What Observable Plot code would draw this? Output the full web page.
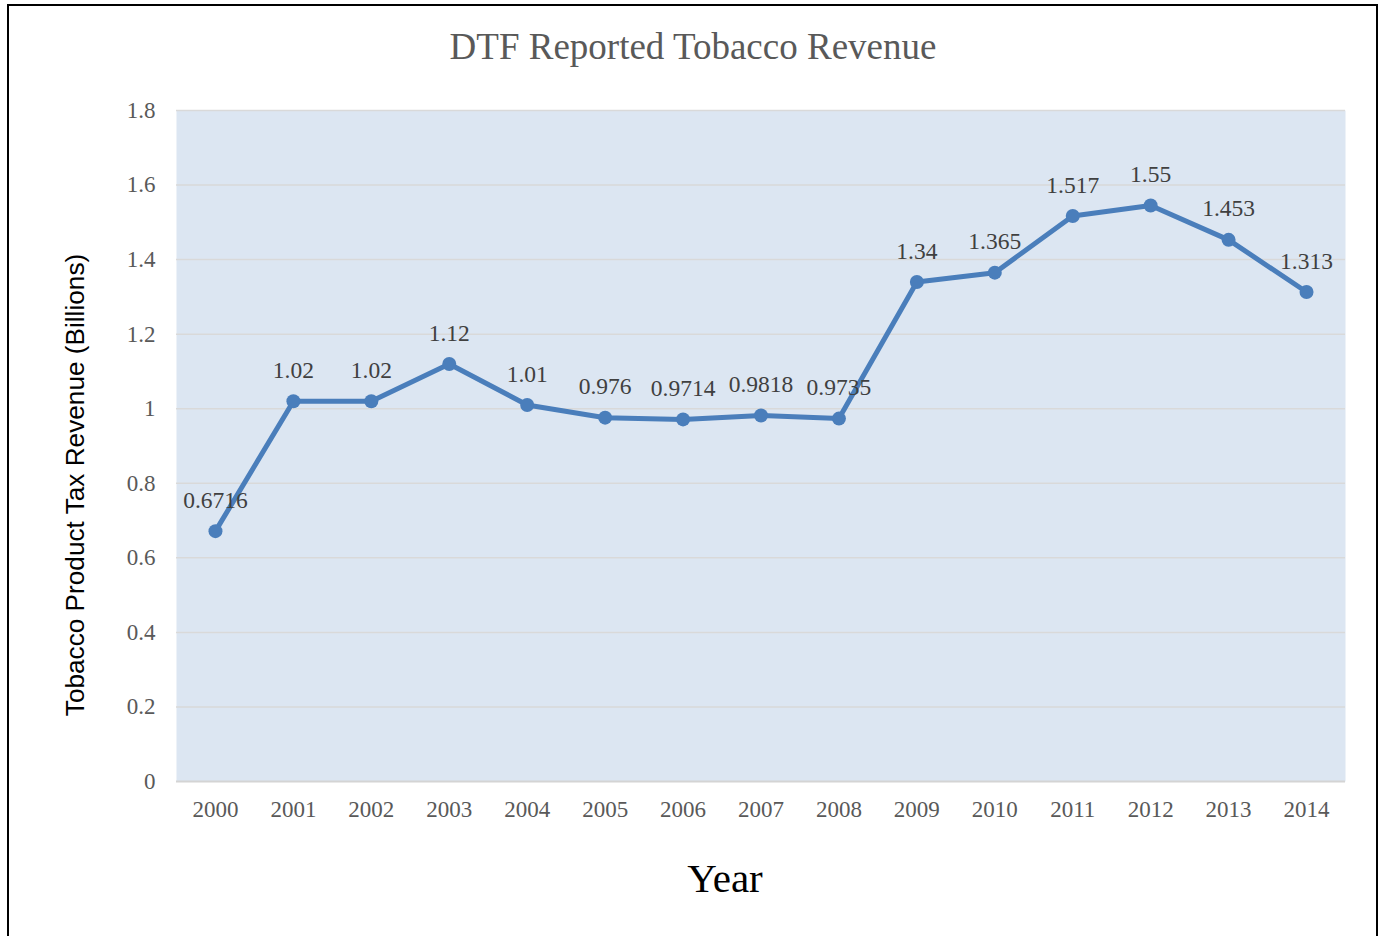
<!DOCTYPE html>
<html>
<head>
<meta charset="utf-8">
<script src="https://cdn.jsdelivr.net/npm/d3@7"></script>
<script src="https://cdn.jsdelivr.net/npm/@observablehq/plot@0.6"></script>
<style>
  html, body { margin: 0; padding: 0; background: #fff; }
  #page { position: relative; width: 1380px; height: 936px; overflow: hidden; background: #fff; }
  #border { position: absolute; left: 7px; top: 4px; width: 1371px; height: 1000px; box-sizing: border-box; border: 2px solid #000; }
  #chart { position: absolute; left: 0; top: 0; }
</style>
</head>
<body>
<div id="page">
  <div id="border"></div>
  <div id="chart"></div>
</div>
<script>
const title = "DTF Reported Tobacco Revenue";
const yLabel = "Tobacco Product Tax Revenue (Billions)";
const xLabel = "Year";
const years = [2000, 2001, 2002, 2003, 2004, 2005, 2006, 2007, 2008, 2009, 2010, 2011, 2012, 2013, 2014];
const revenue = [0.6716, 1.02, 1.02, 1.12, 1.01, 0.976, 0.9714, 0.9818, 0.9735, 1.34, 1.365, 1.517, 1.545, 1.453, 1.313];
const valueLabels = ["0.6716", "1.02", "1.02", "1.12", "1.01", "0.976", "0.9714", "0.9818", "0.9735", "1.34", "1.365", "1.517", "1.55", "1.453", "1.313"];
const yTicks = [0, 0.2, 0.4, 0.6, 0.8, 1.0, 1.2, 1.4, 1.6, 1.8];

const data = years.map((y, i) => ({year: y, value: revenue[i], label: valueLabels[i]}));

const serif = "'Liberation Serif', 'Times New Roman', serif";
const sans = "'Liberation Sans', Arial, sans-serif";
const blue = "#4a7ebb";

const chart = Plot.plot({
  width: 1380,
  height: 936,
  marginTop: 110,
  marginBottom: 155,
  marginLeft: 176,
  marginRight: 35,
  style: {fontFamily: serif, background: "transparent"},
  x: {type: "point", domain: years, padding: 0.5, round: false},
  y: {domain: [0, 1.8]},
  marks: [
    Plot.frame({fill: "#dce6f2", stroke: null}),
    Plot.ruleY(yTicks.filter(d => d > 0), {stroke: "#d9d9d9", strokeWidth: 1.5}),
    Plot.ruleY([0], {stroke: "#d4d4d4", strokeWidth: 2}),
    Plot.axisY({ticks: yTicks, tickSize: 0, tickPadding: 21, tickFormat: d => String(+d.toFixed(1)), label: null, fontSize: 23, fill: "#595959", fontFamily: serif}),
    Plot.axisX({tickSize: 0, tickPadding: 19, tickFormat: d => String(d), label: null, fontSize: 23, fill: "#595959", fontFamily: serif}),
    Plot.line(data, {x: "year", y: "value", stroke: blue, strokeWidth: 5, strokeLinejoin: "round"}),
    Plot.dot(data, {x: "year", y: "value", r: 7, fill: blue, stroke: null}),
    Plot.text(data, {x: "year", y: "value", text: "label", dy: -31, fontSize: 23.5, fill: "#404040", fontFamily: serif, lineAnchor: "middle"}),
    Plot.text([title], {frameAnchor: "top", dx: -68, dy: -63, fontSize: 37, fill: "#595959", fontFamily: serif, lineAnchor: "middle"}),
    Plot.text([xLabel], {frameAnchor: "bottom", dx: -36, dy: 97, fontSize: 41, fill: "#000", fontFamily: serif, lineAnchor: "middle"}),
    Plot.text([yLabel], {frameAnchor: "left", textAnchor: "middle", rotate: -90, dx: -101, dy: 39, fontSize: 26.2, fill: "#000", fontFamily: sans, lineAnchor: "middle"})
  ]
});
document.getElementById("chart").appendChild(chart);
</script>
</body>
</html>
